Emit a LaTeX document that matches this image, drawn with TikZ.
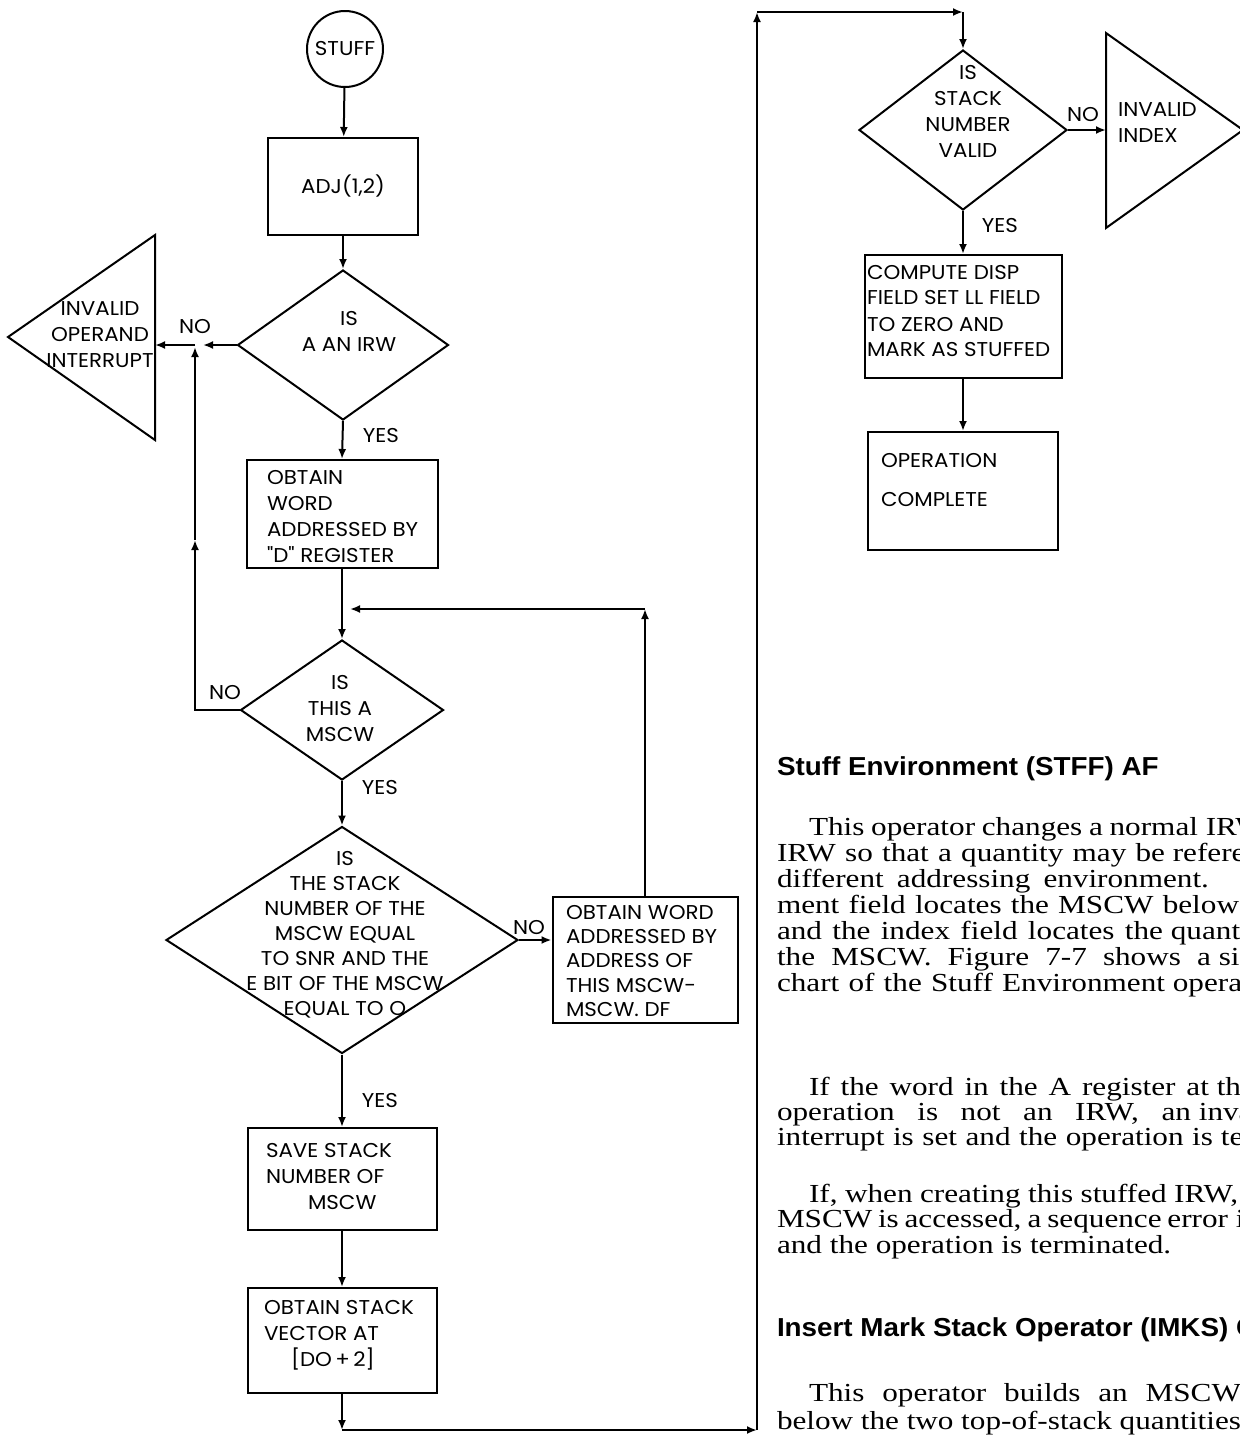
\documentclass[tikz,border=0pt]{standalone}
\usepackage{fontspec}
\setmainfont{Liberation Serif}
\newfontfamily\chartfont{Poppins}[FakeStretch=1.07]
\newfontfamily\bodyfont{Liberation Serif}[FakeStretch=1.2]
\newfontfamily\headfont{Liberation Sans}[FakeStretch=1.07]
\usetikzlibrary{shapes.geometric,arrows.meta}

\tikzset{
  proc/.style={draw, rectangle, inner sep=0pt},
  decision/.style={draw, diamond, inner sep=0pt},
  lbl/.style={font=\chartfont\fontsize{10}{13}\selectfont, inner sep=0pt},
  boxtext/.style={lbl, align=left, anchor=west},
  body/.style={font=\bodyfont\fontsize{13}{13.5}\selectfont, inner sep=0pt, anchor=base west},
  head/.style={font=\headfont\bfseries\fontsize{13}{14}\selectfont, inner sep=0pt, anchor=base west}
}

\begin{document}
\begin{tikzpicture}[x=0.5pt,y=-0.5pt,line width=1pt,>={Latex[length=5pt,width=4pt]}]
\useasboundingbox (0,0) rectangle (1240,1437);
\fill[white] (0,0) rectangle (1240,1437);

% left column
\node[circle, draw, minimum size=38pt, lbl] (stuff) at (345,49) {STUFF};
\node[proc, minimum width=75pt, minimum height=48.5pt, lbl] (adj) at (343,186.5) {ADJ(1,2)};
\draw[->] (stuff) -- (adj);

\node[decision, minimum width=105.5pt, minimum height=75pt] (irw) at (343,345) {};
\node[lbl, align=center] (irwT) at (349,331) {IS\\A AN IRW};
\draw[->] (adj) -- (irw);

\draw (155,235) -- (155,440) -- (8,337) -- cycle;
\coordinate (invop) at (155,345);
\node[lbl, align=center] (invopT) at (100,335) {INVALID\\OPERAND\\INTERRUPT};
\coordinate (jn) at (195,345);
\draw[->] (irw.west) -- ([xshift=4pt]jn);
\draw[->] (jn) -- (invop);
\node[lbl] (irwNo) at (195,327) {NO};
\node[lbl] (irwYes) at (381,435) {YES};

\node[proc, minimum width=95.5pt, minimum height=54pt] (obtw) at (342,514) {};
\node[boxtext] (obtwT) at (266,517) {OBTAIN\\WORD\\ADDRESSED BY\\"D" REGISTER};
\draw[->] (irw.south) -- (obtw.north);

\node[decision, minimum width=101.5pt, minimum height=70pt] (msc) at (342,710) {};
\node[lbl, align=center] (mscT) at (340,708) {IS\\THIS A\\MSCW};
\coordinate (lpj) at (342,609);
\coordinate (lpc) at (645,609);
\draw[->] (obtw.south) -- (msc.north);
\node[lbl] (mscNo) at (225,693) {NO};
\coordinate (upm) at (195,540);
\draw[->] (msc.west) -| (upm);
\draw[->] (upm) -- ([yshift=-1pt]jn);
\node[lbl] (mscYes) at (380,787) {YES};

\node[decision, minimum width=176pt, minimum height=113.5pt] (meq) at (342,940) {};
\node[lbl, align=center, font=\chartfont\fontsize{10}{12.5}\selectfont] (meqT) at (345,935)
  {IS\\THE STACK\\NUMBER OF THE\\MSCW EQUAL\\TO SNR AND THE\\E BIT OF THE MSCW\\EQUAL TO O};
\draw[->] (msc.south) -- (meq.north);

\node[proc, minimum width=92.5pt, minimum height=63pt] (obta) at (645,960) {};
\node[boxtext, font=\chartfont\fontsize{10}{12.2}\selectfont] (obtaT) at (565,961)
  {OBTAIN WORD\\ADDRESSED BY\\ADDRESS OF\\THIS MSCW-\\MSCW. DF};
\draw[->] (meq.east) -- (meq.east -| obta.west);
\node[lbl] (meqNo) at (529,928) {NO};
\draw[->] (obta.north) -- (lpc);
\draw[->] (lpc) -- ([xshift=4pt]lpj);
\node[lbl] (meqYes) at (380,1100) {YES};

\node[proc, minimum width=94.5pt, minimum height=51pt] (savs) at (342,1179) {};
\node[boxtext] (savsT) at (265,1176) {SAVE STACK\\NUMBER OF\\\hspace*{21pt}MSCW};
\draw[->] (meq.south) -- (savs.north);

\node[proc, minimum width=94.5pt, minimum height=52.5pt] (obts) at (342,1340.5) {};
\node[boxtext] (obtsT) at (263,1335) {OBTAIN STACK\\VECTOR AT\\\hspace*{13.5pt}[DO\,+\,2]};
\draw[->] (savs.south) -- (obts.north);

% return path round the page
\coordinate (c1) at (342,1430);
\coordinate (c2) at (757,1430);
\coordinate (c3) at (757,12);
\coordinate (c4) at (963,12);
\draw[->] (obts.south) -- (c1);
\draw[->] (c1) -- (c2);
\draw[->] (c2) -- (c3);
\draw[->] (c3) -- (c4);

% right column
\node[decision, minimum width=104pt, minimum height=80pt] (stk) at (963,130) {};
\node[lbl, align=center] (stkT) at (968,111) {IS\\STACK\\NUMBER\\VALID};
\draw[->] (c4) -- (stk.north);

\draw (1106,33) -- (1243,130) -- (1106,228) -- cycle;
\coordinate (idx) at (1106,130);
\node[boxtext] (idxT) at (1117,123) {INVALID\\INDEX};
\draw[->] (stk.east) -- (idx);
\node[lbl] (stkNo) at (1083,115) {NO};
\node[lbl] (stkYes) at (1000,226) {YES};

\node[proc, minimum width=98.5pt, minimum height=61.5pt] (comp) at (963,316.5) {};
\node[boxtext] (compT) at (866,311) {COMPUTE DISP\\FIELD SET LL FIELD\\TO ZERO AND\\MARK AS STUFFED};
\draw[->] (stk.south) -- (comp.north);

\node[proc, minimum width=95pt, minimum height=59pt] (opc) at (963,491) {};
\node[boxtext] (opcT) at (880,480.5) {OPERATION\\[6.5pt]COMPLETE};
\draw[->] (comp.south) -- (opc.north);

% text column
\node[head] (h1) at (776,775) {Stuff Environment (STFF) AF};
\node[body] (p1a) at (808,835) {\makebox[194.5pt][s]{This operator changes a normal} IRW};
\node[body] (p1b) at (776,861) {\makebox[194pt][s]{IRW so that a quantity may be} referenced};
\node[body] (p1c) at (776,887) {\makebox[216pt][s]{different addressing environment.}};
\node[body] (p1d) at (776,913) {\makebox[231pt][s]{ment field locates the MSCW below}};
\node[body] (p1e) at (776,939) {\makebox[193pt][s]{and the index field locates the} quantity};
\node[body] (p1f) at (776,965) {\makebox[217pt][s]{the MSCW. Figure 7-7 shows a} simplified};
\node[body] (p1g) at (776,991) {\makebox[194pt][s]{chart of the Stuff Environment} operator.};

\node[body] (p2a) at (808,1095) {\makebox[200pt][s]{If the word in the A register at} the};
\node[body] (p2b) at (776,1120) {\makebox[207pt][s]{operation is not an IRW, an} invalid};
\node[body] (p2c) at (776,1145) {\makebox[218pt][s]{interrupt is set and the operation is} terminated.};

\node[body] (p3a) at (808,1202) {\makebox[214.5pt][s]{If, when creating this stuffed IRW,}};
\node[body] (p3b) at (776,1227) {\makebox[225.5pt][s]{MSCW is accessed, a sequence error} is};
\node[body] (p3c) at (776,1253) {and the operation is terminated.};

\node[head] (h2) at (776,1336) {Insert Mark Stack Operator (IMKS) C};
\node[body] (p4a) at (808,1401) {\makebox[216pt][s]{This operator builds an MSCW}};
\node[body] (p4b) at (776,1429) {\makebox[232pt][s]{below the two top-of-stack quantities}};
\end{tikzpicture}
\end{document}
